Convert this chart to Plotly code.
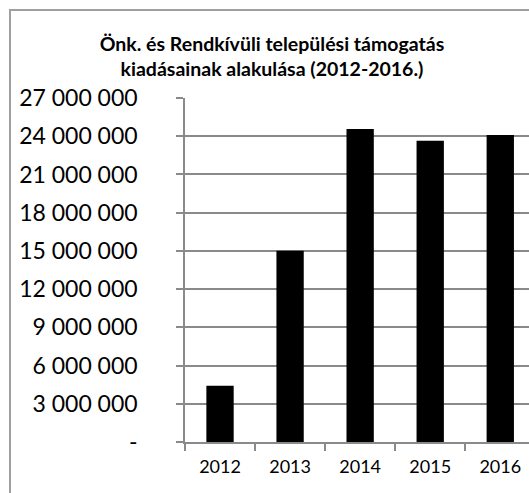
import plotly.graph_objects as go

years = ["2012", "2013", "2014", "2015", "2016"]
values = [4420000, 15020000, 24560000, 23640000, 24100000]
y_tickvals = [0, 3000000, 6000000, 9000000, 12000000, 15000000, 18000000, 21000000, 24000000, 27000000]
y_ticktext = ["-", "3 000 000", "6 000 000", "9 000 000", "12 000 000", "15 000 000",
              "18 000 000", "21 000 000", "24 000 000", "27 000 000"]
title_text = "Önk. és Rendkívüli települési támogatás<br>kiadásainak alakulása (2012-2016.)"

W, H = 529, 493
L, R, T, B = 185, 0, 98, 51
pw, ph = W - L - R, H - T - B

grid = "#8a8a8a"
fnt = "Lato, 'Open Sans', sans-serif"

fig = go.Figure(go.Bar(x=years, y=values, marker=dict(color="#000000", line=dict(width=0)),
                       width=0.39))

fig.update_layout(
    width=W, height=H,
    margin=dict(l=L, r=R, t=T, b=B, pad=0),
    paper_bgcolor="white", plot_bgcolor="white",
    showlegend=False,
    font=dict(family=fnt, color="#000000"),
    title=dict(text="<b>" + title_text + "</b>", x=272 / W, xanchor="center",
               y=1 - 51 / H, yanchor="middle",
               font=dict(size=19.5, family=fnt, color="#000000")),
)

fig.update_xaxes(
    type="category", range=[-0.5, 4.41],
    showgrid=False, showline=True, linecolor=grid, linewidth=1.5,
    ticks="outside", ticklen=7, tickcolor=grid, tickwidth=1.5,
    tickson="boundaries",
    ticklabelstandoff=8,
    tickfont=dict(size=18, family=fnt, color="#000000"),
)
fig.update_yaxes(
    range=[0, 27000000], tickmode="array", tickvals=y_tickvals, ticktext=y_ticktext,
    showgrid=True, gridcolor=grid, gridwidth=1.5,
    showline=True, linecolor=grid, linewidth=1.5,
    zeroline=False,
    ticks="outside", ticklen=7, tickcolor=grid, tickwidth=1.5,
    ticklabelstandoff=34,
    tickfont=dict(size=23, family=fnt, color="#000000"),
)

# outer chart border (cut off at right and bottom)
x0 = (10 - L) / pw
y1 = (H - B - 10) / ph
fig.add_shape(type="rect", xref="paper", yref="paper",
              x0=x0, x1=1.2, y0=-0.3, y1=y1,
              line=dict(color="#a0a0a0", width=2), layer="above")

fig.write_html("out.html", config={"displayModeBar": False},
               post_script="document.body.style.margin='0';document.body.style.overflow='hidden';")
